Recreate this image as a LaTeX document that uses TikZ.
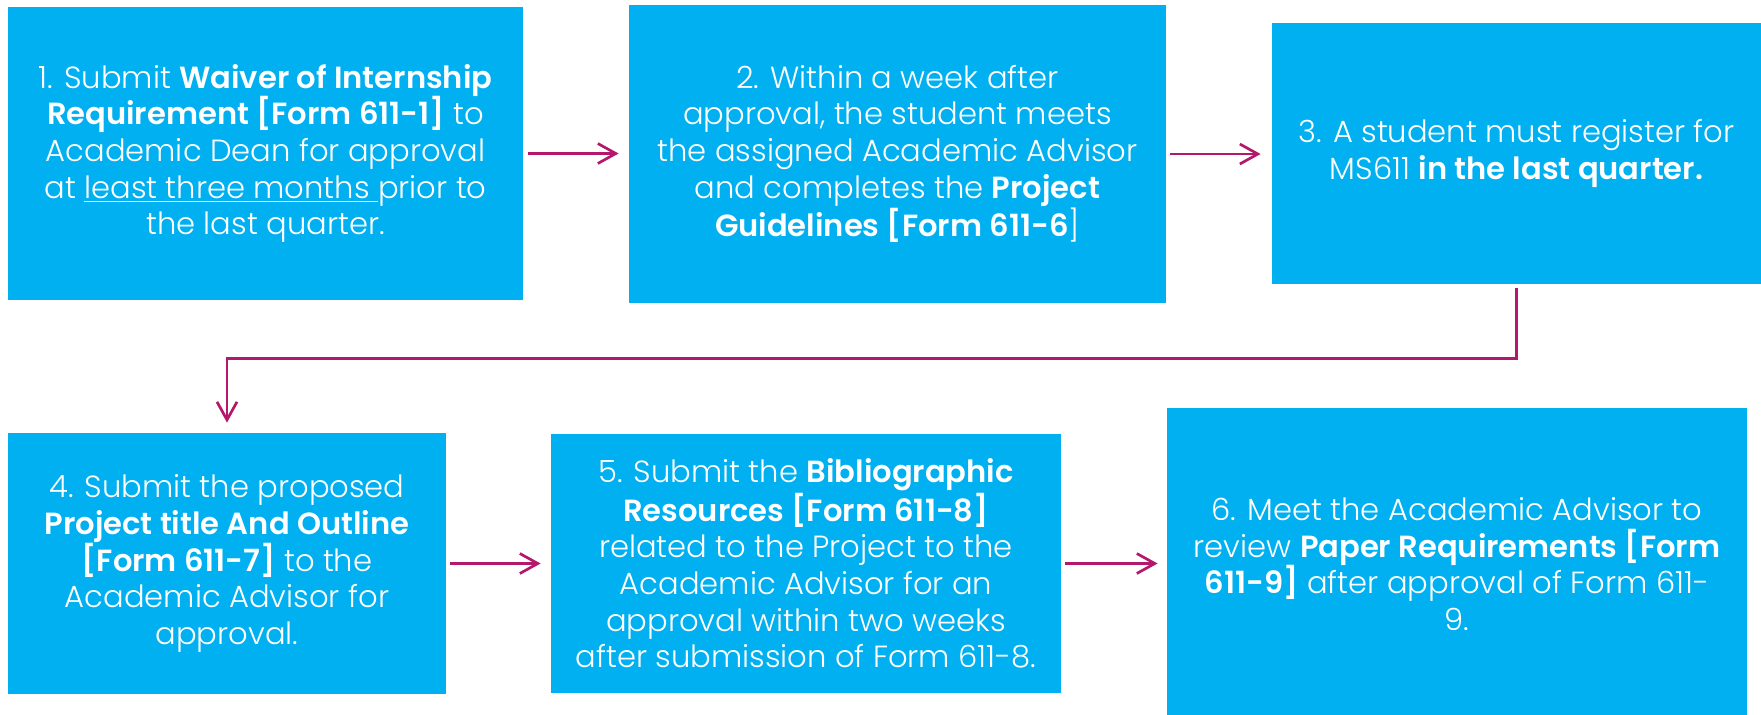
\documentclass[tikz,border=0pt]{standalone}
\usepackage{fontspec}
\setmainfont{Poppins}[UprightFont=* Light,BoldFont=* SemiBold]
\usetikzlibrary{arrows.meta}
\definecolor{boxblue}{RGB}{0,176,240}
\definecolor{flowred}{RGB}{180,24,108}
\tikzset{
 stepbox/.style={fill=boxblue,text=white,align=center,inner sep=0pt,
  font=\fontsize{15.3}{18.3}\selectfont},
 flow/.style={draw=flowred,line width=1.35pt,
  -{Straight Barb[length=9pt,width=10pt,line width=1.35pt]}}
}
\begin{document}
\begin{tikzpicture}[x=0.5pt,y=-0.5pt]
 \useasboundingbox (0,0) rectangle (1761,714);
 \node[stepbox,minimum width=257.5pt,minimum height=146.5pt] (S1) at (265.5,153.5)
  {1. Submit \textbf{Waiver of Internship}\\
   \textbf{Requirement [Form 611-1]} to\\
   Academic Dean for approval\\
   at \underline{least three months }prior to\\
   the last quarter.};
 \node[stepbox,minimum width=268.5pt,minimum height=149pt] (S2) at (897.5,154)
  {2. Within a week after\\
   approval, the student meets\\
   the assigned Academic Advisor\\
   and completes the \textbf{Project}\\
   \textbf{Guidelines [Form 611-6}]};
 \node[stepbox,minimum width=244.5pt,minimum height=130.5pt] (S3) at (1516.5,153.5)
  {3. A student must register for\\
   MS611 \textbf{in the last quarter.}};
 \node[stepbox,minimum width=219pt,minimum height=130.5pt] (S4) at (227,563.5)
  {4. Submit the proposed\\
   \textbf{Project title And Outline}\\
   \textbf{[Form 611-7]} to the\\
   Academic Advisor for\\
   approval.};
 \node[stepbox,minimum width=255pt,minimum height=129.5pt] (S5) at (806,563.5)
  {5. Submit the \textbf{Bibliographic}\\
   \textbf{Resources [Form 611-8]}\\
   related to the Project to the\\
   Academic Advisor for an\\
   approval within two weeks\\
   after submission of Form 611-8.};
 \node[stepbox,minimum width=290pt,minimum height=156pt] (S6) at (1457,564)
  {6. Meet the Academic Advisor to\\
   review \textbf{Paper Requirements [Form}\\
   \textbf{611-9]} after approval of Form 611-\\
   9.};

 \draw[flow,shorten <=2.5pt,shorten >=5pt] (S1.east) -- (S1.east -| S2.west);
 \draw[flow,shorten <=2pt,shorten >=5.5pt] (S2.east) -- (S2.east -| S3.west);
 \draw[flow,shorten <=2pt,shorten >=5pt] (S3.south) -- ++(0,74) -| (S4.north);
 \draw[flow,shorten <=2pt,shorten >=5pt] (S4.east) -- (S4.east -| S5.west);
 \draw[flow,shorten <=2pt,shorten >=4.5pt] (S5.east) -- (S5.east -| S6.west);
\end{tikzpicture}
\end{document}
